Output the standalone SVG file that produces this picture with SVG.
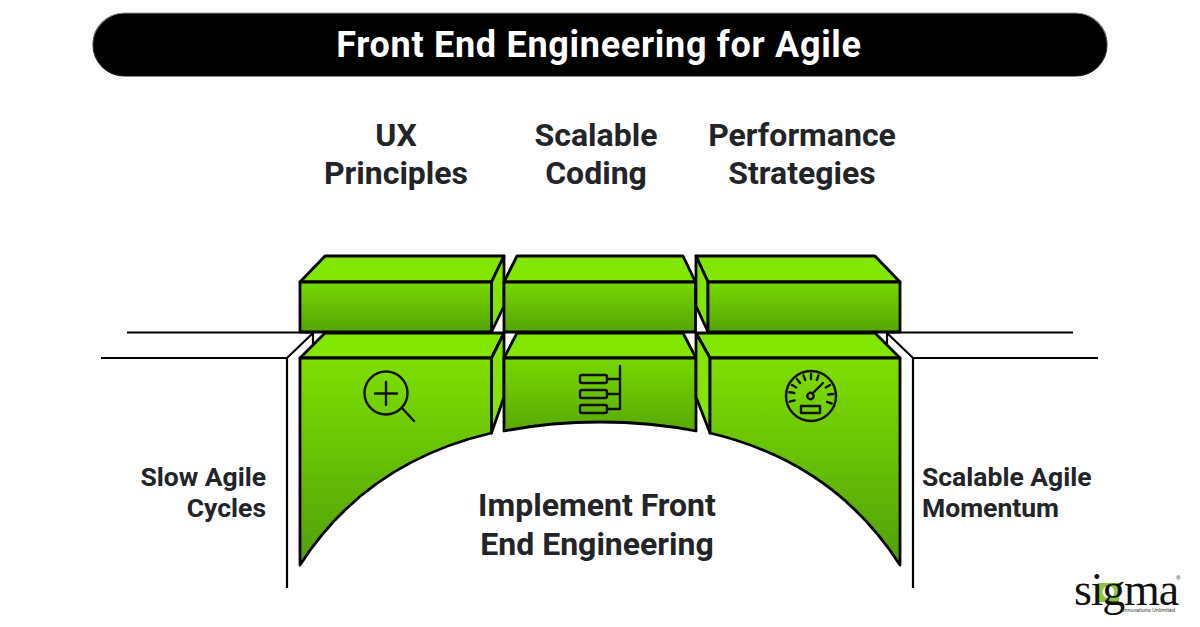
<svg xmlns="http://www.w3.org/2000/svg" width="1200" height="627" viewBox="0 0 1200 627">
<style>
text{font-family:Roboto,"Liberation Sans",sans-serif;font-weight:700;fill:#222428}
.m{text-anchor:middle}
.e{text-anchor:end}
.h{font-size:32px}
.s{font-size:26.500px}
.f{stroke:#000;stroke-width:2.800;stroke-linejoin:round}
.t{fill:#82e600}
.l{fill:none;stroke:#000;stroke-width:2.200}
.i{fill:none;stroke:#111;stroke-width:2.400;stroke-linecap:round;stroke-linejoin:round}
</style>
<defs>
<linearGradient id="g1" x1="0" y1="0" x2="0" y2="1"><stop offset="0" stop-color="#78d800"/><stop offset="1" stop-color="#55a406"/></linearGradient>
<linearGradient id="g2" gradientUnits="userSpaceOnUse" x1="0" y1="358" x2="0" y2="565"><stop offset="0" stop-color="#7edf00"/><stop offset="1" stop-color="#50a00a"/></linearGradient>
<linearGradient id="g3" gradientUnits="userSpaceOnUse" x1="0" y1="358" x2="0" y2="432"><stop offset="0" stop-color="#78d800"/><stop offset="1" stop-color="#58a806"/></linearGradient>
<linearGradient id="hl" x1="0" y1="0" x2="0" y2="1"><stop offset="0" stop-color="#999"/><stop offset="0.500" stop-color="#333"/><stop offset="1" stop-color="#111"/></linearGradient>
</defs>

<g id="title">
<rect x="93" y="13" width="1014" height="63" rx="31.500" fill="#000" stroke="url(#hl)" stroke-width="1.200"/>
<text x="599" y="57" class="m" style="font-size:36px;letter-spacing:0.700px;fill:#fff">Front End Engineering for Agile</text>
</g>

<g id="connectors">
<path class="l" d="M127 332.500H313M101 358H287L313 333V346M287 358V588"/>
<path class="l" d="M1073 332.500H887M1098 358H913L887 333V346M913 358V588"/>
</g>

<g id="label-ux"><text x="396" y="146" class="m h">UX</text><text x="396" y="184" class="m h">Principles</text></g>
<g id="label-scalable"><text x="596" y="146" class="m h">Scalable</text><text x="596" y="184" class="m h">Coding</text></g>
<g id="label-performance"><text x="802" y="146" class="m h">Performance</text><text x="802" y="184" class="m h">Strategies</text></g>

<g id="block-top-left">
<path class="f t" d="M300 282L325 256H504L491.500 282Z"/>
<path class="f t" d="M491.500 282L504 256V306L491.500 332Z"/>
<rect class="f" x="300" y="282" width="191.500" height="50" fill="url(#g1)"/>
</g>
<g id="block-top-middle">
<path class="f t" d="M504 282L517 256H683L695.500 282Z"/>
<rect class="f" x="504" y="282" width="191.500" height="50" fill="url(#g1)"/>
</g>
<g id="block-top-right">
<path class="f t" d="M696 256H875L900 282H708Z"/>
<path class="f t" d="M696 256L708 282V332L696 306Z"/>
<rect class="f" x="708" y="282" width="192" height="50" fill="url(#g1)"/>
</g>

<g id="block-bottom-left">
<path class="f t" d="M300 358L325 333H504L491.500 358Z"/>
<path class="f t" d="M491.500 358L504 333V397L491.500 433Z"/>
<path class="f" d="M300 358H491.500V433C410 452 345 495 300 565Z" fill="url(#g2)"/>
<g class="i"><circle cx="386" cy="393" r="21.500"/><path d="M386 382V405M375 393.500H397M402 408L414 421"/></g>
</g>
<g id="block-bottom-middle">
<path class="f t" d="M504 358L517 333H683L696 358Z"/>
<path class="f" d="M504 358H696V431C635 419 565 419 504 431Z" fill="url(#g3)"/>
<g class="i"><rect x="580" y="375" width="27" height="8" rx="2"/><rect x="580" y="390" width="27" height="8" rx="2"/><rect x="580" y="405" width="27" height="8" rx="2"/><path d="M620 366V409H607M607 379H620M607 394H620"/></g>
</g>
<g id="block-bottom-right">
<path class="f t" d="M696 333H875L900 358H710Z"/>
<path class="f t" d="M696 333L710 358V433L696 397Z"/>
<path class="f" d="M710 358H900V565C855 495 790 452 710 433Z" fill="url(#g2)"/>
<g class="i"><circle cx="811" cy="396" r="25"/><circle cx="810.500" cy="396" r="3.200"/><path d="M812.500 393.500L823 383M811 379V374M805.200 380L803.500 375.300M800.100 383L796.900 379.100M796.300 387.500L792 385M794.300 393L789.300 392.200M794.600 400.400L789.700 401.700M816.800 380L818.500 375.300M825.700 387.500L830 385M828 394.500L833 394M827 401.800L831.700 403.500"/><rect x="801" y="406" width="19" height="7"/></g>
</g>

<g id="label-slow"><text x="266" y="486" class="e s">Slow Agile</text><text x="266" y="517" class="e s">Cycles</text></g>
<g id="label-momentum"><text x="922" y="486" class="s">Scalable Agile</text><text x="922" y="517" class="s">Momentum</text></g>
<g id="label-implement"><text x="597" y="516" class="m h">Implement Front</text><text x="597" y="555" class="m h">End Engineering</text></g>

<g id="logo">
<rect x="1098" y="583" width="21" height="19" fill="#8cc63f"/>
<circle cx="1108.500" cy="592" r="6" fill="#fff"/>
<text x="1074" y="605" style="font-family:'Liberation Serif',serif;font-weight:400;font-size:46px;letter-spacing:-1.200px;fill:#111">sigma</text>
<text x="1123" y="612" style="font-size:5.400px;font-weight:400;fill:#444">Innovations Unlimited</text>
<text x="1176" y="580" style="font-size:6px;font-weight:400;fill:#444">®</text>
</g>
</svg>
